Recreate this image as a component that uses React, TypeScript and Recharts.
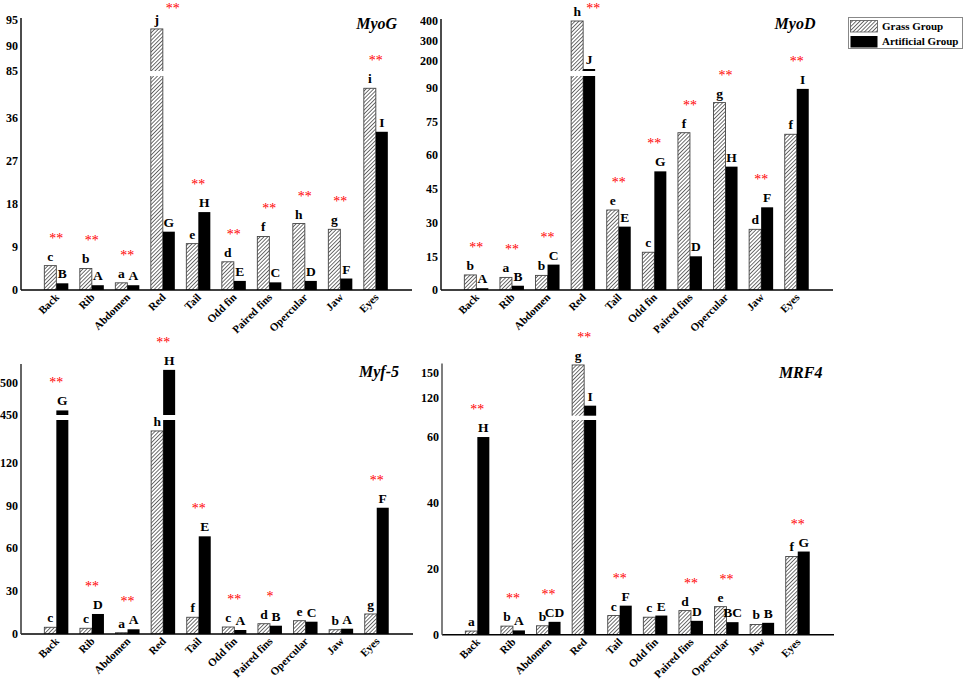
import React from "react"
import { Bar, BarChart, LabelList, XAxis, YAxis } from "recharts"

const FONT = "'Liberation Serif', 'Times New Roman', serif"

const tissues = ["Back", "Rib", "Abdomen", "Red", "Tail", "Odd fin", "Paired fins", "Opercular", "Jaw", "Eyes"]

// MyoG
const myogGrass = [5.1, 4.5, 1.5, 93.2, 9.7, 5.9, 11.2, 13.9, 12.7, 42.2]
const myogArtificial = [1.4, 1.0, 1.0, 12.2, 16.3, 1.9, 1.6, 1.9, 2.4, 33.1]
const myogGrassLetters = ["c", "b", "a", "j", "e", "d", "f", "h", "g", "i"]
const myogArtificialLetters = ["B", "A", "A", "G", "H", "E", "C", "D", "F", "I"]
const myogStars = ["**", "**", "**", "**", "**", "**", "**", "**", "**", "**"]
const myogTicks = [0, 9, 18, 27, 36, 85, 90, 95]

// MyoD
const myodGrass = [6.7, 5.6, 6.5, 400, 35.6, 16.8, 70.0, 83.4, 27.0, 69.3]
const myodArtificial = [0.8, 1.9, 11.3, 160, 28.2, 52.8, 15.0, 54.9, 36.8, 89.5]
const myodGrassLetters = ["b", "a", "b", "h", "e", "c", "f", "g", "d", "f"]
const myodArtificialLetters = ["A", "B", "C", "J", "E", "G", "D", "H", "F", "I"]
const myodStars = ["**", "**", "**", "**", "**", "**", "**", "**", "**", "**"]
const myodTicks = [0, 15, 30, 45, 60, 75, 90, 200, 300, 400]

// Myf-5
const myf5Grass = [4.7, 4.0, 0.9, 142, 11.7, 4.9, 7.2, 9.3, 3.0, 14.0]
const myf5Artificial = [457, 14.0, 3.3, 519, 68.3, 2.8, 5.8, 8.6, 3.7, 88.3]
const myf5GrassLetters = ["c", "c", "a", "h", "f", "c", "d", "e", "b", "g"]
const myf5ArtificialLetters = ["G", "D", "A", "H", "E", "A", "B", "C", "A", "F"]
const myf5Stars = ["**", "**", "**", "**", "**", "**", "*", "", "", "**"]
const myf5Ticks = [0, 30, 60, 90, 120, 450, 500]

// MRF4
const mrf4Grass = [1.1, 2.6, 2.7, 158.5, 5.8, 5.3, 7.3, 8.5, 3.1, 23.7]
const mrf4Artificial = [59.9, 1.3, 3.9, 111, 8.8, 5.8, 4.2, 3.8, 3.6, 25.2]
const mrf4GrassLetters = ["a", "b", "b", "g", "c", "c", "d", "e", "b", "f"]
const mrf4ArtificialLetters = ["H", "A", "CD", "I", "F", "E", "D", "BC", "B", "G"]
const mrf4Stars = ["**", "**", "**", "**", "**", "", "**", "**", "", "**"]
const mrf4Ticks = [0, 20, 40, 60, 120, 150]

type Scale = { k1: number; lowMax: number; upStart: number; upPx: number; k2: number; gap: [number, number] }

// broken axis: lower segment and upper segment, both in plot pixels
function toDisplay(v: number, s: Scale) {
  return v <= s.lowMax ? v * s.k1 : s.upPx + (v - s.upStart) * s.k2
}

function buildRows(grass: number[], art: number[], gl: string[], al: string[], stars: string[], s: Scale) {
  return tissues.map((name, i) => ({
    name,
    grass: toDisplay(grass[i], s),
    art: toDisplay(art[i], s),
    gl: gl[i],
    al: al[i],
    stars: stars[i],
  }))
}

function brokenBar(key: string, gap: [number, number], fill: string, stroke?: string) {
  return (props: any) => {
    const { x, y, width, height, payload } = props
    if (!height || height <= 0) return <g />
    const v = payload[key]
    const k = height / v
    const bottom = y + height
    const cut = v > gap[1]
    return (
      <g>
        <rect x={x} y={y} width={width} height={height} fill={fill} stroke={stroke || "none"} strokeWidth={stroke ? 0.9 : 0} />
        {cut && <rect x={x - 1.5} y={bottom - gap[1] * k} width={width + 3} height={(gap[1] - gap[0]) * k} fill="#fff" />}
      </g>
    )
  }
}

const letterLabel = (props: any) => {
  const vb = props.viewBox || props
  const { x, y, width } = vb
  if (!props.value) return null
  return (
    <text x={x + width / 2} y={y - 5} textAnchor="middle" fill="#000" fontSize={13.5} fontWeight="bold" fontFamily={FONT}>
      {props.value}
    </text>
  )
}

function starLabel(rows: any[]) {
  return (props: any) => {
    const vb = props.viewBox || props
    const { x, y, height } = vb
    const row = rows[props.index]
    if (!row || !row.stars) return null
    const bottom = y + height
    const k = row.art > 0 && height > 0 ? height / row.art : 1
    const top = Math.min(y, bottom - row.grass * k)
    // no room above the tallest bars: put the stars beside the letter, as in the figure
    const tight = top - 23 < 10
    return (
      <text x={tight ? x + 10 : x} y={tight ? 12.5 : top - 23} textAnchor="middle" fill="#ff0000" fontSize={14} fontFamily={FONT}>
        {row.stars}
      </text>
    )
  }
}

const XTick = (props: any) => {
  const { x, y, payload } = props
  return (
    <g transform={`translate(${x + 3},${y + 8})`}>
      <text transform="rotate(-45)" textAnchor="end" fill="#000" fontSize={11} fontWeight="bold" fontFamily={FONT}>
        {payload.value}
      </text>
    </g>
  )
}

type PanelProps = {
  left: number
  top: number
  width: number
  height: number
  marginTop: number
  marginRight: number
  yWidth: number
  xHeight: number
  axisColor: string
  scale: Scale
  ticks: number[]
  grass: number[]
  art: number[]
  gl: string[]
  al: string[]
  stars: string[]
}

function Panel(p: PanelProps) {
  const rows = buildRows(p.grass, p.art, p.gl, p.al, p.stars, p.scale)
  const plotH = p.height - p.marginTop - p.xHeight
  const tickPos = p.ticks.map((t) => toDisplay(t, p.scale))
  return (
    <div style={{ position: "absolute", left: p.left, top: p.top }}>
      <BarChart
        width={p.width}
        height={p.height}
        data={rows}
        margin={{ top: p.marginTop, right: p.marginRight, left: 0, bottom: 0 }}
        barCategoryGap="15%"
        barGap={0}
      >
        <XAxis
          dataKey="name"
          interval={0}
          height={p.xHeight}
          tickLine={false}
          tickSize={0}
          tickMargin={0}
          tick={<XTick />}
          padding={{ left: 18, right: 18 }}
          axisLine={{ stroke: "#000", strokeWidth: 1.5 }}
        />
        <YAxis
          type="number"
          domain={[0, plotH]}
          allowDataOverflow
          width={p.yWidth}
          ticks={tickPos}
          interval={0}
          tickFormatter={(_v: number, i: number) => String(p.ticks[i])}
          tickLine={false}
          tickSize={0}
          tickMargin={3}
          tick={{ fill: "#000", fontSize: 12, fontWeight: "bold", fontFamily: FONT }}
          axisLine={{ stroke: p.axisColor, strokeWidth: 1.5 }}
        />
        <Bar dataKey="grass" isAnimationActive={false} shape={brokenBar("grass", p.scale.gap, "url(#hatch)", "#444")}>
          <LabelList dataKey="gl" content={letterLabel} />
        </Bar>
        <Bar dataKey="art" isAnimationActive={false} shape={brokenBar("art", p.scale.gap, "#000")}>
          <LabelList dataKey="al" content={letterLabel} />
          <LabelList dataKey="stars" content={starLabel(rows)} />
        </Bar>
      </BarChart>
    </div>
  )
}

const titleStyle = (cx: number, cy: number): React.CSSProperties => ({
  position: "absolute",
  left: cx - 50,
  top: cy - 10,
  width: 100,
  textAlign: "center",
  fontFamily: FONT,
  fontWeight: "bold",
  fontStyle: "italic",
  fontSize: 16,
  lineHeight: "20px",
})

export default function App() {
  return (
    <div style={{ position: "absolute", left: 0, top: 0, width: 964, height: 681, background: "#fff", fontFamily: FONT }}>
      <svg width={0} height={0} style={{ position: "absolute" }}>
        <defs>
          <pattern id="hatch" patternUnits="userSpaceOnUse" width={2.7} height={2.7} patternTransform="rotate(45)">
            <rect width={2.7} height={2.7} fill="#fff" />
            <line x1={0} y1={0} x2={0} y2={2.7} stroke="#333" strokeWidth={1.4} />
          </pattern>
        </defs>
      </svg>

      <Panel
        left={0} top={0} width={440} height={340} marginTop={18} marginRight={28} yWidth={21} xHeight={50} axisColor="#111"
        scale={{ k1: 4.78, lowMax: 46, upStart: 85, upPx: 219, k2: 5.13, gap: [214, 219] }}
        ticks={myogTicks} grass={myogGrass} art={myogArtificial}
        gl={myogGrassLetters} al={myogArtificialLetters} stars={myogStars}
      />
      <Panel
        left={420} top={0} width={450} height={340} marginTop={19} marginRight={37} yWidth={21} xHeight={50} axisColor="#111"
        scale={{ k1: 2.247, lowMax: 96, upStart: 150, upPx: 219, k2: 0.2, gap: [214, 219] }}
        ticks={myodTicks} grass={myodGrass} art={myodArtificial}
        gl={myodGrassLetters} al={myodArtificialLetters} stars={myodStars}
      />
      <Panel
        left={0} top={330} width={440} height={351} marginTop={34} marginRight={27} yWidth={21} xHeight={47} axisColor="#333"
        scale={{ k1: 1.43, lowMax: 150, upStart: 450, upPx: 219, k2: 0.654, gap: [214, 219] }}
        ticks={myf5Ticks} grass={myf5Grass} art={myf5Artificial}
        gl={myf5GrassLetters} al={myf5ArtificialLetters} stars={myf5Stars}
      />
      <Panel
        left={420} top={330} width={450} height={351} marginTop={33.5} marginRight={36} yWidth={22} xHeight={46.3} axisColor="#555"
        scale={{ k1: 3.3, lowMax: 66, upStart: 99.3, upPx: 219, k2: 0.857, gap: [214.7, 219] }}
        ticks={mrf4Ticks} grass={mrf4Grass} art={mrf4Artificial}
        gl={mrf4GrassLetters} al={mrf4ArtificialLetters} stars={mrf4Stars}
      />

      <div style={titleStyle(376.7, 24.3)}>MyoG</div>
      <div style={titleStyle(795, 24)}>MyoD</div>
      <div style={titleStyle(379, 372)}>Myf-5</div>
      <div style={titleStyle(800.7, 373)}>MRF4</div>

      <div
        style={{
          position: "absolute",
          left: 848,
          top: 16.5,
          width: 113,
          height: 30,
          border: "1px solid #888",
          fontSize: 11,
          fontWeight: "bold",
          fontFamily: FONT,
        }}
      >
        <svg width={30} height={30} style={{ position: "absolute", left: 1, top: 1 }}>
          <rect x={0.5} y={1.5} width={27} height={11.5} fill="url(#hatch)" stroke="#555" strokeWidth={0.8} />
          <rect x={0.5} y={17} width={27} height={11.5} fill="#000" />
        </svg>
        <div style={{ position: "absolute", left: 33, top: 1, lineHeight: "14px", whiteSpace: "nowrap" }}>Grass Group</div>
        <div style={{ position: "absolute", left: 33, top: 16.5, lineHeight: "14px", whiteSpace: "nowrap" }}>Artificial Group</div>
      </div>
    </div>
  )
}
